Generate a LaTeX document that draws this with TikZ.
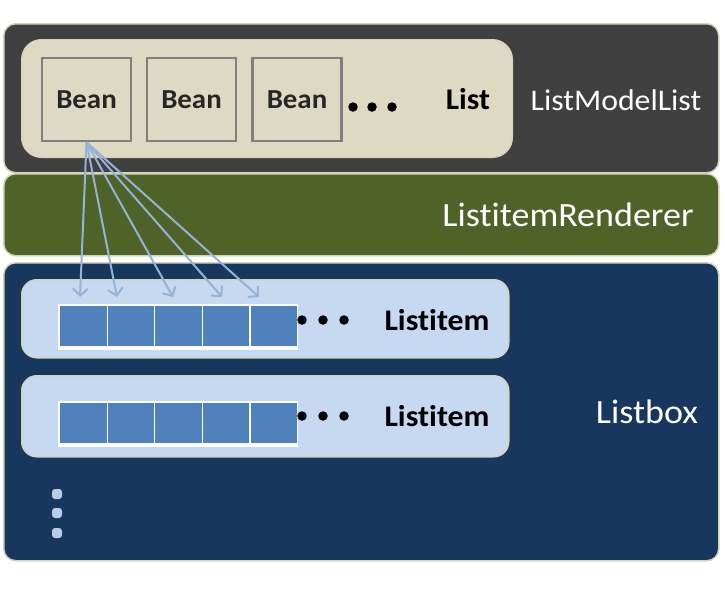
\documentclass[tikz,border=0pt]{standalone}
\usepackage{fontspec}
\usepackage{graphicx}
\setmainfont{Carlito}[Ligatures=NoCommon]
\usetikzlibrary{arrows.meta,calc}
\definecolor{darkbg}{HTML}{404040}
\definecolor{greenbg}{HTML}{4F6228}
\definecolor{bluebg}{HTML}{17375E}
\definecolor{tanfill}{HTML}{DDD9C3}
\definecolor{tanline}{HTML}{D6D2B8}
\definecolor{beanline}{HTML}{7F7F7F}
\definecolor{itemfill}{HTML}{C6D9F1}
\definecolor{cellfill}{HTML}{4F81BD}
\definecolor{arrowc}{HTML}{95B3D7}
\definecolor{vdot}{HTML}{B8CCE4}
\tikzset{
  layer/.style={draw=tanline, line width=1.5pt, rounded corners=12pt, anchor=north west, inner sep=0pt},
  listbox/.style={draw=tanline, line width=1pt, fill=tanfill, rounded corners=20pt, anchor=north west, inner sep=0pt},
  itembox/.style={draw=tanline, line width=1.5pt, fill=itemfill, rounded corners=15pt, anchor=north west, inner sep=0pt},
  beanbox/.style={draw=beanline, line width=2.5pt, fill=tanfill, minimum width=89pt, minimum height=83pt, inner sep=0pt,
    font=\fontsize{27.5}{27.5}\selectfont\bfseries, text=black!85},
  cell/.style={draw=white, line width=1.2pt, fill=cellfill, minimum width=47.6pt, minimum height=41pt, inner sep=0pt, anchor=north west},
  bigdot/.style={circle, fill=black, minimum size=9.5pt, inner sep=0pt},
  vdotbox/.style={fill=vdot, rounded corners=3pt, minimum width=10pt, minimum height=10pt, inner sep=0pt},
  whitelabel/.style={text=white, inner sep=0pt},
  blacklabel/.style={text=black, inner sep=0pt, font=\fontsize{30}{30}\selectfont\bfseries},
  link/.style={draw=arrowc, line width=2pt, -{Straight Barb[length=7pt,width=15pt]}}
}
\begin{document}
\begin{tikzpicture}[x=1pt,y=-1pt]
\useasboundingbox (0,0) rectangle (725,600);
% layers
\node[layer, fill=darkbg, minimum width=715pt, minimum height=149pt] (model) at (3,23) {};
\node[layer, fill=greenbg, minimum width=715pt, minimum height=82pt] (renderer) at (3,173) {};
\node[layer, fill=bluebg, minimum width=715pt, minimum height=298pt] (listbox) at (3,262) {};
% list box
\node[listbox, minimum width=491pt, minimum height=118pt] (list) at (21,39) {};
\node[beanbox] (b1) at (86.5,99.5) {\scalebox{1.05}[1]{Bean}};
\node[beanbox] (b2) at (191.5,99.5) {\scalebox{1.05}[1]{Bean}};
\node[beanbox] (b3) at (297,99.5) {\scalebox{1.05}[1]{Bean}};
\node[bigdot] (d1) at (353,107) {};
\node[bigdot] (d2) at (372,107) {};
\node[bigdot] (d3) at (392,107) {};
\node[blacklabel] (listlbl) at (468,99) {\scalebox{1.05}[1]{List}};
\node[whitelabel, font=\fontsize{30}{30}\selectfont] (modellbl) at (616,100) {\scalebox{1.06}[1]{ListModelList}};
% renderer
\node[whitelabel, font=\fontsize{34}{34}\selectfont] (rendlbl) at (568,215) {\scalebox{1.06}[1]{ListitemRenderer}};
% listitem 1
\node[itembox, minimum width=487pt, minimum height=78pt] (item1) at (21,279) {};
\fill[white] (58.4,304.4) rectangle (297.6,349.5);
\foreach \i in {1,...,5} {
  \node[cell] (c\i) at ({59+(\i-1)*47.6},305) {};
}
\node[bigdot] (e1) at (302,320) {};
\node[bigdot] (e2) at (323,320) {};
\node[bigdot] (e3) at (344,320) {};
\node[blacklabel] (itemlbl1) at (437,320) {\scalebox{1.06}[1]{Listitem}};
% listitem 2
\node[itembox, minimum width=487pt, minimum height=81pt] (item2) at (21,375) {};
\fill[white] (58.4,401.4) rectangle (297.6,446.5);
\foreach \i in {1,...,5} {
  \node[cell] (k\i) at ({59+(\i-1)*47.6},402) {};
}
\node[bigdot] (f1) at (302,416) {};
\node[bigdot] (f2) at (323,416) {};
\node[bigdot] (f3) at (344,416) {};
\node[blacklabel] (itemlbl2) at (437,416) {\scalebox{1.06}[1]{Listitem}};
\node[whitelabel, font=\fontsize{34}{34}\selectfont] (boxlbl) at (647,412) {\scalebox{1.06}[1]{Listbox}};
% vertical dots
\node[vdotbox] (v1) at (57,494) {};
\node[vdotbox] (v2) at (57,513) {};
\node[vdotbox] (v3) at (57,533) {};
% arrows
\coordinate (t1) at (80,297);
\coordinate (t2) at (117,297);
\coordinate (t3) at (173,297);
\coordinate (t4) at (222,297);
\coordinate (t5) at (259,297);
\foreach \i in {1,...,5} {
  \draw[link] (b1.south) -- (t\i);
}
\end{tikzpicture}
\end{document}
